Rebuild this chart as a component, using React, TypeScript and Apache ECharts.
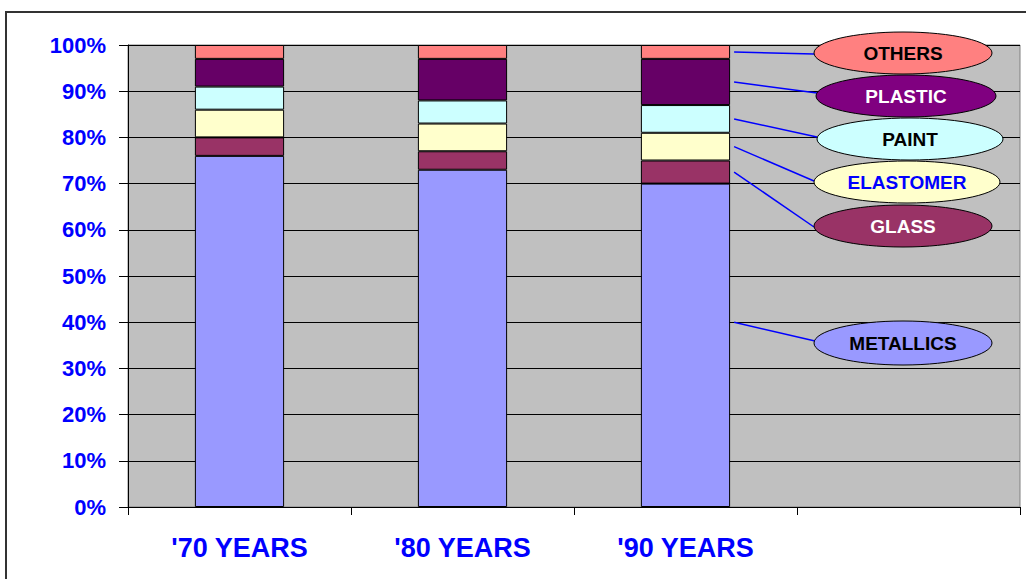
import React, { useEffect, useRef } from "react";
import * as echarts from "echarts";

// Stacked share of materials (percent), one value per decade
const categories = ["'70 YEARS", "'80 YEARS", "'90 YEARS", ""];
const metallics = [76, 73, 70];
const glass = [4, 4, 5];
const elastomer = [6, 6, 6];
const paint = [5, 5, 6];
const plastic = [6, 9, 10];
const others = [3, 3, 3];
const yTicks = [0, 10, 20, 30, 40, 50, 60, 70, 80, 90, 100];

const FONT = "'Liberation Sans', Arial, sans-serif";
const BLUE = "#0000FF";

type Material = {
  name: string;
  data: number[];
  color: string;
  bubble: string;
  text: string;
  // ellipse centre and radii of the callout
  cx: number;
  cy: number;
  rx: number;
  ry: number;
  // where the leader line enters the ellipse
  ex: number;
  ey: number;
};

const materials: Material[] = [
  { name: "METALLICS", data: metallics, color: "#9999FF", bubble: "#9999FF", text: "#000000", cx: 903, cy: 343, rx: 89, ry: 22, ex: 815, ey: 341 },
  { name: "GLASS", data: glass, color: "#993366", bubble: "#993366", text: "#FFFFFF", cx: 903, cy: 226, rx: 89, ry: 21, ex: 814, ey: 227 },
  { name: "ELASTOMER", data: elastomer, color: "#FFFFCC", bubble: "#FFFFCC", text: BLUE, cx: 907, cy: 182, rx: 93, ry: 21, ex: 814, ey: 181 },
  { name: "PAINT", data: paint, color: "#CCFFFF", bubble: "#CCFFFF", text: "#000000", cx: 910, cy: 139, rx: 93, ry: 21, ex: 817, ey: 137 },
  { name: "PLASTIC", data: plastic, color: "#660066", bubble: "#800080", text: "#FFFFFF", cx: 906, cy: 96, rx: 90, ry: 21, ex: 817, ey: 93 },
  { name: "OTHERS", data: others, color: "#FF8080", bubble: "#FF8080", text: "#000000", cx: 903, cy: 53, rx: 89, ry: 21, ex: 814, ey: 54 },
];

// The metallics leader starts at this level instead of the segment middle
const METALLICS_ANCHOR = 40;

export default function App() {
  const ref = useRef<HTMLDivElement>(null);

  useEffect(() => {
    if (!ref.current) return;
    const chart = echarts.init(ref.current, null, { renderer: "svg" });

    const option: any = {
      animation: false,
      backgroundColor: "#FFFFFF",
      grid: {
        left: 128,
        top: 45,
        right: 6,
        bottom: 72,
        show: true,
        backgroundColor: "#C0C0C0",
        borderColor: "#808080",
        borderWidth: 1,
      },
      xAxis: {
        type: "category",
        data: categories,
        boundaryGap: true,
        axisLine: { show: true, lineStyle: { color: "#000000", width: 1 } },
        axisTick: { show: true, length: 8, inside: false, lineStyle: { color: "#000000" } },
        axisLabel: {
          color: BLUE,
          fontFamily: FONT,
          fontWeight: "bold",
          fontSize: 27,
          margin: 27,
        },
        splitLine: { show: false },
      },
      yAxis: {
        type: "value",
        min: yTicks[0],
        max: yTicks[yTicks.length - 1],
        interval: 10,
        axisLine: { show: true, lineStyle: { color: "#000000", width: 1 } },
        axisTick: { show: true, length: 9, lineStyle: { color: "#000000" } },
        axisLabel: {
          formatter: "{value}%",
          color: BLUE,
          fontFamily: FONT,
          fontWeight: "bold",
          fontSize: 22,
          margin: 22,
        },
        splitLine: { show: true, lineStyle: { color: "#000000", width: 1 } },
      },
      series: materials.map((m) => ({
        name: m.name,
        type: "bar",
        stack: "total",
        barWidth: "40%",
        data: m.data,
        itemStyle: { color: m.color, borderColor: "#000000", borderWidth: 1 },
      })),
    };

    chart.setOption(option);

    // Callouts for the last decade: leader line from the bar segment to an ellipse
    const last = metallics.length - 1;
    const barCenter = chart.convertToPixel({ xAxisIndex: 0 }, last) as number;
    const band = (chart.convertToPixel({ xAxisIndex: 0 }, 1) as number) - (chart.convertToPixel({ xAxisIndex: 0 }, 0) as number);
    const startX = barCenter + band * 0.2 + 4;

    const graphics: any[] = [];
    let base = 0;
    materials.forEach((m) => {
      const v = m.data[last];
      const mid = m.name === "METALLICS" ? METALLICS_ANCHOR : base + v / 2;
      base += v;
      const sy = chart.convertToPixel({ yAxisIndex: 0 }, mid) as number;
      graphics.push({
        type: "line",
        shape: { x1: startX, y1: sy, x2: m.ex, y2: m.ey },
        style: { stroke: "#0000FF", lineWidth: 1.5 },
        z: 100,
      });
      graphics.push({
        type: "ellipse",
        shape: { cx: m.cx, cy: m.cy, rx: m.rx, ry: m.ry },
        style: { fill: m.bubble, stroke: "#000000", lineWidth: 1 },
        z: 101,
      });
      graphics.push({
        type: "text",
        x: m.cx,
        y: m.cy,
        style: {
          text: m.name,
          fill: m.text,
          font: `bold 19px ${FONT}`,
          align: "center",
          verticalAlign: "middle",
        },
        z: 102,
      });
    });

    // chart frame
    graphics.push({
      type: "rect",
      shape: { x: 6, y: 12, width: 1040, height: 600 },
      style: { fill: "none", stroke: "#333333", lineWidth: 2 },
      z: 200,
    });

    chart.setOption({ graphic: graphics });

    return () => chart.dispose();
  }, []);

  return (
    <div
      ref={ref}
      style={{ position: "fixed", left: 0, top: 0, width: 1026, height: 579, background: "#FFFFFF" }}
    />
  );
}
